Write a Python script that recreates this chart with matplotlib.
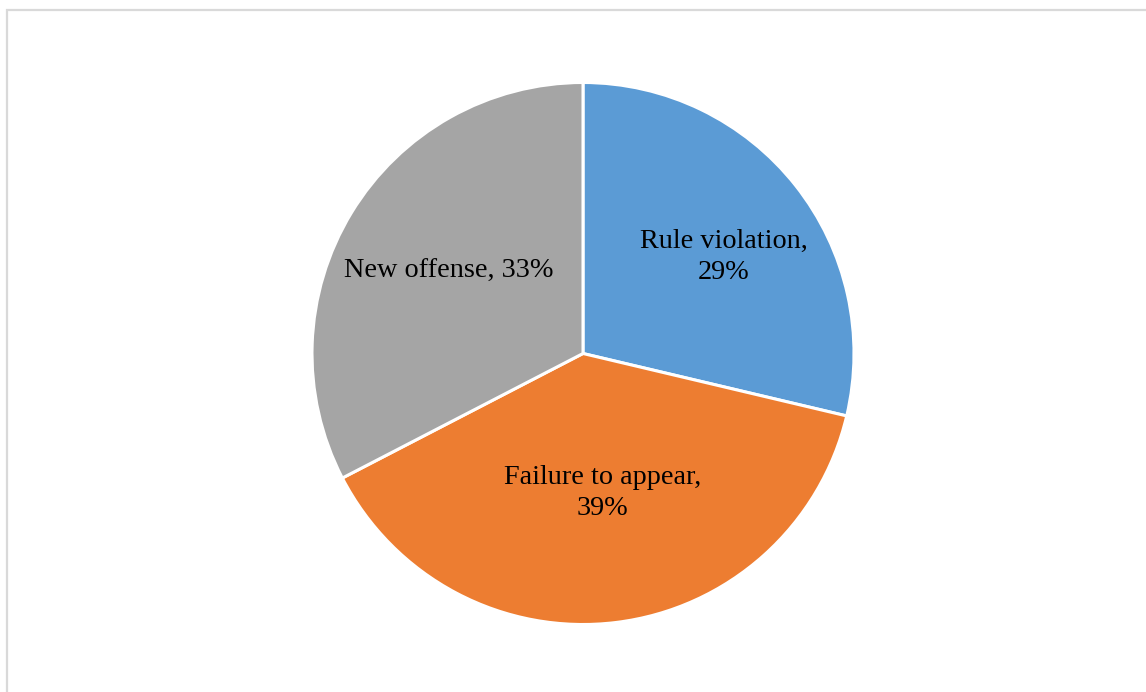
import numpy as np
import matplotlib.pyplot as plt
from matplotlib.patches import Rectangle

# Data
categories = ["Rule violation", "Failure to appear", "New offense"]
shares = [28.7, 38.7, 32.6]
colors = ["#5B9BD5", "#ED7D31", "#A5A5A5"]
label_dist = [0.63, 0.52, 0.58]  # Excel best-fit placement, fraction of radius
label_shift = [-4, 1, 0]         # small angle tweak (deg) of label placement
line_break = [True, True, False]

plt.rcParams['font.family'] = ['Liberation Serif', 'DejaVu Serif']

fig = plt.figure(figsize=(11.46, 6.92), dpi=100)

# chart area border (cut off at right and bottom like the reference)
fig.patches.append(Rectangle((7 / 1146, -0.1), 1.2, (692 - 9.5) / 692 + 0.1,
                             transform=fig.transFigure, fill=False,
                             edgecolor='#D9D9D9', linewidth=1.6))

# pie axes: center (583, 353.5), radius ~271 px
r = 271
cx, cy = 583, 692 - 353.5
ax = fig.add_axes([(cx - r) / 1146, (cy - r) / 692, 2 * r / 1146, 2 * r / 692])

wedges, _ = ax.pie(shares, colors=colors, startangle=90, counterclock=False,
                   wedgeprops=dict(edgecolor='white', linewidth=2.2))
ax.set_aspect('equal')
ax.set_xlim(-1, 1)
ax.set_ylim(-1, 1)
ax.axis('off')

total = sum(shares)
for w, name, val, d, sh, br in zip(wedges, categories, shares, label_dist,
                                   label_shift, line_break):
    mid = np.deg2rad((w.theta1 + w.theta2) / 2 + sh)
    pct = round(val / total * 100)
    sep = ",\n" if br else ", "
    ax.text(d * np.cos(mid), d * np.sin(mid), f"{name}{sep}{pct}%",
            ha='center', va='center', fontsize=20.3, color='black',
            linespacing=1.33)

fig.savefig("out.png", dpi=100, facecolor='white')
